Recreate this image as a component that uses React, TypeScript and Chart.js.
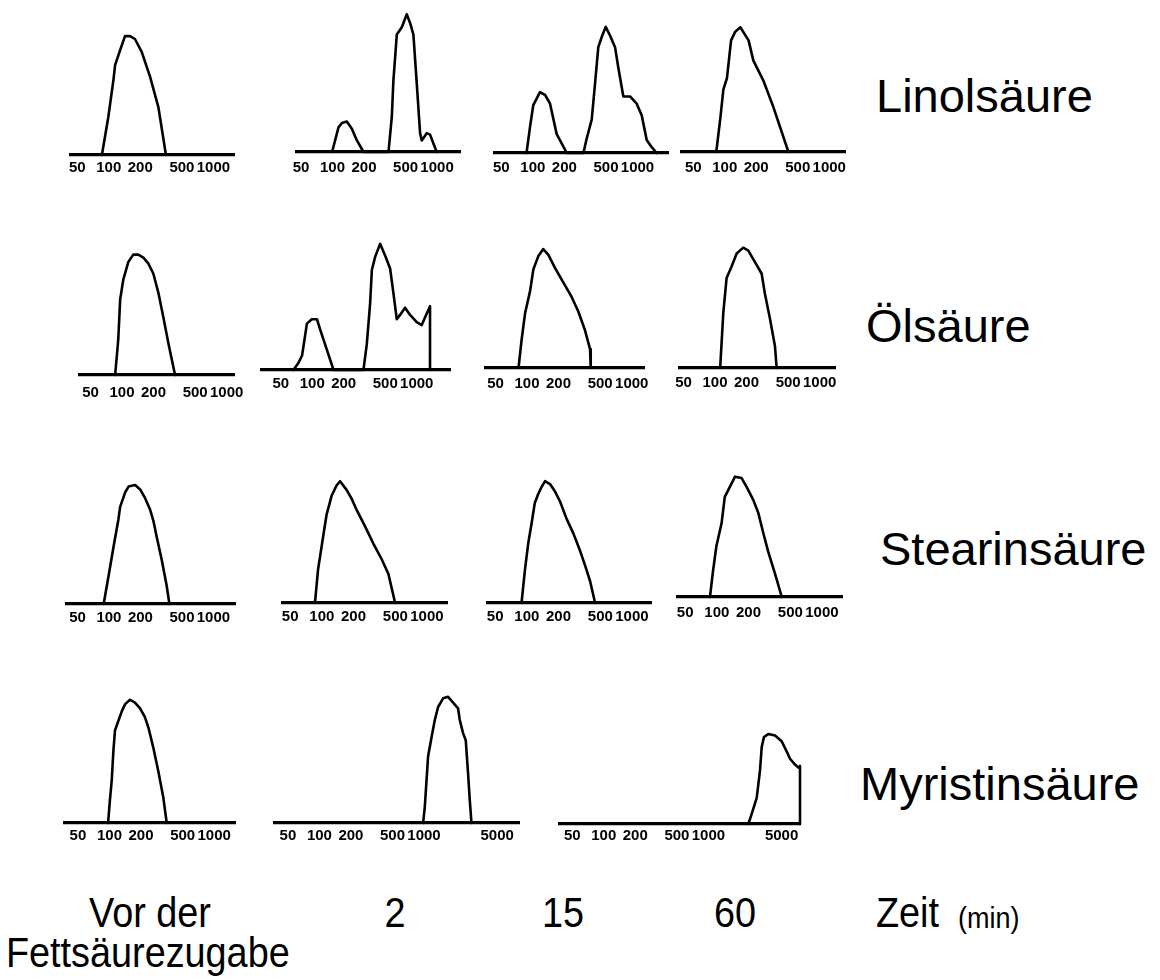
import { useEffect, useRef } from "react";
import { Chart, registerables } from "chart.js";

Chart.register(...registerables);

const FONT = "'Liberation Sans', Arial, sans-serif";

// Particle size axis (log scale), tick labels
const sizeTicks = [50, 100, 200, 500, 1000];
const sizeTicksWide = [50, 100, 200, 500, 1000, 5000];

const acidNames = ["Linolsäure", "Ölsäure", "Stearinsäure", "Myristinsäure"];
const timeLabels = ["2", "15", "60"];

// Linolsäure
const linol0Size = [86, 99, 111, 115, 128, 143, 160, 178, 207, 248, 298, 352];
const linol0Freq = [0, 26, 52, 62, 72, 82, 82, 80, 71, 54, 33, 0];
const linol2Size = [99, 114, 123, 137, 153, 171, 198, 343, 369, 382, 412, 460, 513, 552, 594, 640, 688, 714, 797, 857, 921, 993];
const linol2Freq = [0, 17, 20, 21, 16, 8, 0, 0, 24, 49, 81, 86, 95, 89, 81, 47, 13, 8, 13, 12, 6, 0];
const linol15Size = [87, 94, 101, 117, 131, 146, 169, 211, 304, 327, 365, 393, 422, 455, 497, 546, 610, 655, 732, 848, 982, 1096, 1224, 1366, 1525];
const linol15Freq = [0, 18, 33, 42, 40, 34, 13, 0, 0, 10, 23, 48, 73, 80, 87, 81, 73, 59, 39, 39, 34, 26, 9, 4, 0];
const linol60Size = [83, 91, 97, 105, 115, 126, 141, 169, 188, 235, 292, 407];
const linol60Freq = [0, 24, 43, 51, 77, 83, 86, 77, 63, 49, 31, 0];

// Ölsäure
const oel0Size = [86, 92, 96, 103, 115, 128, 143, 160, 178, 199, 222, 248, 277, 321];
const oel0Freq = [0, 24, 52, 66, 78, 83, 83, 81, 77, 70, 57, 40, 22, 0];
const oel2Size = [66, 74, 80, 89, 99, 111, 119, 138, 160, 309, 333, 358, 372, 400, 446, 498, 556, 598, 644, 692, 773, 863, 999, 1116, 1246, 1339, 1339];
const oel2Freq = [0, 5, 10, 32, 35, 35, 28, 14, 0, 0, 18, 46, 69, 78, 87, 79, 70, 53, 35, 38, 43, 38, 33, 31, 39, 44, 0];
const oel15Size = [83, 89, 96, 107, 115, 128, 143, 160, 185, 222, 267, 309, 358, 400, 406];
const oel15Freq = [0, 20, 38, 53, 68, 77, 82, 78, 69, 59, 49, 39, 26, 13, 0];
const oel60Size = [112, 120, 129, 144, 161, 186, 208, 241, 279, 300, 335, 374, 388];
const oel60Freq = [0, 38, 62, 70, 79, 83, 81, 73, 65, 51, 34, 15, 0];

// Stearinsäure
const stearin0Size = [89, 99, 111, 123, 128, 143, 154, 178, 199, 222, 248, 267, 287, 321, 358, 379];
const stearin0Freq = [0, 19, 40, 58, 67, 77, 81, 82, 79, 73, 65, 57, 46, 30, 12, 0];
const stearin2Size = [86, 92, 103, 111, 124, 138, 149, 172, 192, 215, 257, 309, 372, 430, 498];
const stearin2Freq = [0, 23, 46, 61, 74, 81, 84, 78, 72, 64, 53, 41, 30, 20, 0];
const stearin15Size = [89, 96, 103, 111, 119, 128, 138, 149, 166, 185, 207, 239, 277, 321, 358, 400, 446];
const stearin15Freq = [0, 23, 41, 55, 69, 75, 80, 84, 82, 77, 70, 58, 48, 36, 26, 15, 0];
const stearin60Size = [86, 92, 99, 111, 119, 133, 149, 172, 192, 222, 248, 277, 309, 358, 415];
const stearin60Freq = [0, 18, 35, 51, 69, 76, 83, 82, 76, 67, 58, 44, 31, 16, 0];

// Myristinsäure
const myristin0Size = [97, 101, 105, 109, 113, 121, 131, 141, 157, 175, 196, 218, 235, 262, 292, 326, 352];
const myristin0Freq = [0, 16, 29, 50, 64, 70, 77, 82, 85, 83, 79, 73, 66, 52, 36, 18, 0];
const myristin2Size = [980, 1017, 1056, 1094, 1179, 1268, 1363, 1522, 1699, 1896, 2117, 2197, 2362, 2506, 2638, 2737, 2841];
const myristin2Freq = [0, 11, 29, 46, 59, 71, 80, 86, 87, 83, 79, 71, 62, 57, 34, 16, 0];
const myristin15Size = [2404, 2591, 2892, 3110, 3228, 3395, 3733, 4325, 5012, 5595, 6016, 6714, 7219, 7495, 7495];
const myristin15Freq = [0, 7, 18, 37, 53, 60, 62, 61, 57, 50, 45, 41, 39, 40, 0];

// Visible size range of each small axis
const linolRanges = [[43.6, 1573], [45.7, 1658], [43.5, 1955], [39, 1415]];
const oelRanges = [[39.7, 1174], [33.1, 2079], [40.6, 1310], [46.3, 1400]];
const stearinRanges = [[39.7, 1608], [42.7, 1552], [42.7, 1518], [42.7, 1552]];
const myristinRanges = [[37.6, 1580], [37.6, 8092], [38.2, 7495]];

type PanelDef = {
  size: number[];
  freq: number[];
  range: number[];
  ticks: number[];
  left: number;
  right: number;
  base: number;
  gap: number;
  clip?: number;
};

const PLOT_H = 145;
const PAD_X = 26;
const PAD_TOP = 6;
const AXIS_H = 26;

const panels: PanelDef[] = [
  { size: linol0Size, freq: linol0Freq, range: linolRanges[0], ticks: sizeTicks, left: 71, right: 234, base: 155, gap: 4 },
  { size: linol2Size, freq: linol2Freq, range: linolRanges[1], ticks: sizeTicks, left: 297, right: 460, base: 152, gap: 7 },
  { size: linol15Size, freq: linol15Freq, range: linolRanges[2], ticks: sizeTicks, left: 495, right: 668, base: 153, gap: 6 },
  { size: linol60Size, freq: linol60Freq, range: linolRanges[3], ticks: sizeTicks, left: 682, right: 845, base: 152, gap: 7, clip: 846 },
  { size: oel0Size, freq: oel0Freq, range: oelRanges[0], ticks: sizeTicks, left: 80, right: 234, base: 375, gap: 9 },
  { size: oel2Size, freq: oel2Freq, range: oelRanges[1], ticks: sizeTicks, left: 262, right: 450, base: 370, gap: 5 },
  { size: oel15Size, freq: oel15Freq, range: oelRanges[2], ticks: sizeTicks, left: 486, right: 644, base: 368, gap: 7 },
  { size: oel60Size, freq: oel60Freq, range: oelRanges[3], ticks: sizeTicks, left: 680, right: 835, base: 368, gap: 6 },
  { size: stearin0Size, freq: stearin0Freq, range: stearinRanges[0], ticks: sizeTicks, left: 67, right: 235, base: 604, gap: 5 },
  { size: stearin2Size, freq: stearin2Freq, range: stearinRanges[1], ticks: sizeTicks, left: 283, right: 447, base: 603, gap: 5 },
  { size: stearin15Size, freq: stearin15Freq, range: stearinRanges[2], ticks: sizeTicks, left: 488, right: 651, base: 603, gap: 5 },
  { size: stearin60Size, freq: stearin60Freq, range: stearinRanges[3], ticks: sizeTicks, left: 678, right: 842, base: 597, gap: 7 },
  { size: myristin0Size, freq: myristin0Freq, range: myristinRanges[0], ticks: sizeTicks, left: 65, right: 235, base: 823, gap: 4 },
  { size: myristin2Size, freq: myristin2Freq, range: myristinRanges[1], ticks: sizeTicksWide, left: 275, right: 519, base: 823, gap: 4 },
  { size: myristin15Size, freq: myristin15Freq, range: myristinRanges[2], ticks: sizeTicksWide, left: 560, right: 800, base: 824, gap: 3 },
];

function Panel({ p }: { p: PanelDef }) {
  const ref = useRef<HTMLCanvasElement>(null);

  useEffect(() => {
    if (!ref.current) return;
    const chart = new Chart(ref.current, {
      type: "line",
      data: {
        datasets: [
          {
            data: p.size.map((x, i) => ({ x, y: p.freq[i] })),
            borderColor: "#000",
            borderWidth: 2.6,
            pointRadius: 0,
            tension: 0,
            clip: false,
            borderJoinStyle: "round",
            borderCapStyle: "round",
          } as any,
        ],
      },
      options: {
        animation: false,
        responsive: true,
        maintainAspectRatio: false,
        events: [],
        layout: { padding: { left: PAD_X, right: PAD_X, top: PAD_TOP, bottom: 0 } },
        plugins: { legend: { display: false }, tooltip: { enabled: false } },
        scales: {
          x: {
            type: "logarithmic",
            min: p.range[0],
            max: p.range[1],
            afterBuildTicks: (s: any) => {
              s.ticks = p.ticks.map((v) => ({ value: v }));
            },
            afterFit: (s: any) => {
              s.height = AXIS_H;
            },
            grid: { display: false, drawTicks: false },
            border: { display: true, width: 3.2, color: "#000" },
            ticks: {
              autoSkip: false,
              maxRotation: 0,
              minRotation: 0,
              padding: p.gap,
              color: "#000",
              font: { family: FONT, size: 15, weight: "bold" },
              callback: (v: any) => String(v),
            },
          } as any,
          y: { display: false, min: 0, max: 100 },
        },
      },
    });
    return () => chart.destroy();
  }, [p]);

  const w = p.right - p.left + 2 * PAD_X;
  const h = PAD_TOP + PLOT_H + AXIS_H;
  const x0 = p.left - PAD_X;
  return (
    <div
      style={{
        position: "absolute",
        left: x0,
        top: p.base - PLOT_H - PAD_TOP,
        width: p.clip ? p.clip - x0 : w,
        height: h,
        overflow: "hidden",
      }}
    >
      <div style={{ position: "relative", width: w, height: h }}>
        <canvas ref={ref} />
      </div>
    </div>
  );
}

type TextProps = {
  text: string;
  x: number;
  baseline: number;
  size: number;
  center?: boolean;
  sx?: number;
};

function Text({ text, x, baseline, size, center, sx = 1 }: TextProps) {
  const top = baseline - 0.8465 * size;
  const style: any = {
    position: "absolute",
    top,
    fontFamily: FONT,
    fontSize: size,
    lineHeight: `${size}px`,
    color: "#000",
    whiteSpace: "nowrap",
    transform: `scaleX(${sx})`,
  };
  if (center) {
    style.left = x - 150;
    style.width = 300;
    style.textAlign = "center";
    style.transformOrigin = "center";
  } else {
    style.left = x;
    style.transformOrigin = "left";
  }
  return <div style={style}>{text}</div>;
}

export default function App() {
  const acidPos = [
    { x: 876, b: 112 },
    { x: 866, b: 342 },
    { x: 880, b: 565 },
    { x: 860, b: 800 },
  ];
  const timeX = [395, 563, 735];
  return (
    <div
      style={{
        position: "absolute",
        left: 0,
        top: 0,
        width: 1160,
        height: 980,
        background: "#fff",
        overflow: "hidden",
      }}
    >
      {panels.map((p, i) => (
        <Panel key={i} p={p} />
      ))}
      {acidNames.map((n, i) => (
        <Text key={n} text={n} x={acidPos[i].x} baseline={acidPos[i].b} size={47} />
      ))}
      <Text text="Vor der" x={150} baseline={928} size={42} sx={0.9} center />
      <Text text="Fettsäurezugabe" x={6} baseline={968} size={42} sx={0.9} />
      {timeLabels.map((t, i) => (
        <Text key={t} text={t} x={timeX[i]} baseline={928} size={42} sx={0.9} center />
      ))}
      <Text text="Zeit" x={876} baseline={928} size={42} sx={0.9} />
      <Text text="(min)" x={958} baseline={928} size={30} sx={0.9} />
    </div>
  );
}
